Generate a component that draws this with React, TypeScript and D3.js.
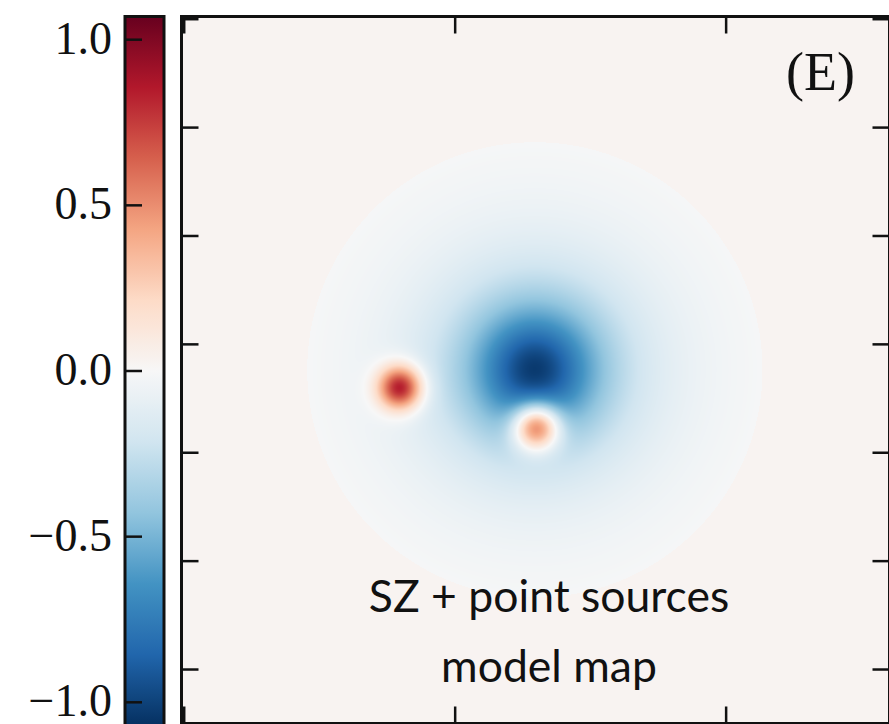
import React, { useEffect, useMemo, useState } from "react";
import * as d3 from "d3";

// ---- data ---------------------------------------------------------------
// Model map grid (pixels on a side) and axis ticks in map-pixel units
const MAP_PIXELS = 130;
const xTicks = [0, 50, 100];
const yTicks = [0, 20, 40, 60, 80, 100, 120];

// Colour bar
const VMAX = 1.07;
const cbarTicks = [1.0, 0.5, 0.0, -0.5, -1.0];
const cbarTickLabels = ["1.0", "0.5", "0.0", "\u22120.5", "\u22121.0"];

// Diverging palette (blue -> white -> red), linearly interpolated
const paletteColors = [
  "#053061", "#2166ac", "#4393c3", "#92c5de", "#d1e5f0", "#f7f7f7",
  "#fddbc7", "#f4a582", "#d6604d", "#b2182b", "#67001f",
];

// SZ cluster (projected beta-like profile, truncated, mean removed)
const clusterCenter = [64.7, 64.7];
const clusterAmplitude = [-1.06];
const clusterCoreRadius = [14.8];
const clusterSlope = [1.5];
const clusterTruncation = [42];
const mapOffset = [0.028];

// Point sources (Gaussian beam)
const sourceX = [39.8, 65.0];
const sourceY = [68.0, 75.2];
const sourceAmp = [0.95, 1.0];
const sourceSigma = [2.8, 3.0];

const panelLabel = "(E)";
const captionLines = ["SZ + point sources", "model map"];

// ---- layout -------------------------------------------------------------
const WIDTH = 889;
const HEIGHT = 724;
const plot = { left: 181.5, top: 16.5, right: 889.5, bottom: 723.5 };
const cbar = { left: 125, right: 164, top: 16.5, bottom: 725.5 };
const TICK = 17;

function modelValue(x: number, y: number): number {
  let v = mapOffset[0];
  const dx = x - clusterCenter[0];
  const dy = y - clusterCenter[1];
  const r = Math.sqrt(dx * dx + dy * dy);
  if (r < clusterTruncation[0]) {
    const q = r / clusterCoreRadius[0];
    v += clusterAmplitude[0] * Math.pow(1 + q * q, -clusterSlope[0]);
  }
  for (let i = 0; i < sourceX.length; i++) {
    const sx = x - sourceX[i];
    const sy = y - sourceY[i];
    v += sourceAmp[i] * Math.exp(-(sx * sx + sy * sy) / (2 * sourceSigma[i] * sourceSigma[i]));
  }
  return v;
}

export default function App() {
  const xScale = useMemo(
    () => d3.scaleLinear().domain([-0.5, MAP_PIXELS - 0.5]).range([181.5, 886]),
    []
  );
  const yScale = useMemo(
    () => d3.scaleLinear().domain([-0.5, MAP_PIXELS - 0.5]).range([16.5, 721]),
    []
  );
  const color = useMemo(
    () =>
      d3
        .scaleLinear<string>()
        .domain(paletteColors.map((_, i) => -VMAX + (2 * VMAX * i) / (paletteColors.length - 1)))
        .range(paletteColors)
        .interpolate(d3.interpolateRgb)
        .clamp(true),
    []
  );
  const cbarY = useMemo(
    () => d3.scaleLinear().domain([VMAX, -VMAX]).range([cbar.top, cbar.bottom]),
    []
  );

  const imgX0 = 181;
  const imgY0 = 16;
  const imgW = 709;
  const imgH = 709;
  const [href, setHref] = useState<string>("");

  useEffect(() => {
    const canvas = document.createElement("canvas");
    canvas.width = imgW;
    canvas.height = imgH;
    const ctx = canvas.getContext("2d");
    if (!ctx) return;
    const img = ctx.createImageData(imgW, imgH);
    const N = 2048;
    const lut: number[][] = [];
    for (let k = 0; k < N; k++) {
      const v = -VMAX + (2 * VMAX * k) / (N - 1);
      const c = d3.rgb(color(v));
      lut.push([c.r, c.g, c.b]);
    }
    for (let j = 0; j < imgH; j++) {
      const dy = yScale.invert(imgY0 + j + 0.5);
      for (let i = 0; i < imgW; i++) {
        const dx = xScale.invert(imgX0 + i + 0.5);
        const v = Math.max(-VMAX, Math.min(VMAX, modelValue(dx, dy)));
        const k = Math.round(((v + VMAX) / (2 * VMAX)) * (N - 1));
        const c = lut[k];
        const o = (j * imgW + i) * 4;
        img.data[o] = c[0];
        img.data[o + 1] = c[1];
        img.data[o + 2] = c[2];
        img.data[o + 3] = 255;
      }
    }
    ctx.putImageData(img, 0, 0);
    setHref(canvas.toDataURL());
  }, [xScale, yScale, color]);

  const gradStops = d3.range(0, 1.0001, 0.02).map((t) => ({
    offset: t,
    c: color(VMAX - t * 2 * VMAX),
  }));

  return (
    <svg width={WIDTH} height={HEIGHT} style={{ display: "block", position: "absolute", left: 0, top: 0 }}>
      <defs>
        <linearGradient id="cbarGrad" x1="0" y1="0" x2="0" y2="1">
          {gradStops.map((s, i) => (
            <stop key={i} offset={s.offset} stopColor={s.c} />
          ))}
        </linearGradient>
        <clipPath id="plotClip">
          <rect x={plot.left} y={plot.top} width={plot.right - plot.left} height={plot.bottom - plot.top} />
        </clipPath>
      </defs>
      <rect width={WIDTH} height={HEIGHT} fill="#ffffff" />

      {/* colour bar */}
      <rect
        x={cbar.left}
        y={cbar.top}
        width={cbar.right - cbar.left}
        height={cbar.bottom - cbar.top}
        fill="url(#cbarGrad)"
        stroke="#111"
        strokeWidth={3}
      />
      {cbarTicks.map((t, i) => (
        <g key={i}>
          <line x1={cbar.left} x2={cbar.left + TICK} y1={cbarY(t)} y2={cbarY(t)} stroke="#111" strokeWidth={2.5} />
          <text
            x={112}
            y={cbarY(t) + 14}
            textAnchor="end"
            fontFamily="'Liberation Serif', 'Times New Roman', serif"
            fontSize={46}
            fill="#111"
          >
            {cbarTickLabels[i]}
          </text>
        </g>
      ))}

      {/* model map */}
      <g clipPath="url(#plotClip)">
        {href && (
          <image href={href} x={imgX0} y={imgY0} width={imgW} height={imgH} preserveAspectRatio="none" />
        )}
      </g>

      {/* ticks on all four sides, pointing inward */}
      {xTicks.map((t) => (
        <g key={"x" + t}>
          <line x1={xScale(t)} x2={xScale(t)} y1={plot.top} y2={plot.top + TICK} stroke="#111" strokeWidth={2.5} />
          <line x1={xScale(t)} x2={xScale(t)} y1={plot.bottom} y2={plot.bottom - TICK} stroke="#111" strokeWidth={2.5} />
        </g>
      ))}
      {yTicks.map((t) => (
        <g key={"y" + t}>
          <line x1={plot.left} x2={plot.left + TICK} y1={yScale(t)} y2={yScale(t)} stroke="#111" strokeWidth={2.5} />
          <line x1={plot.right} x2={plot.right - TICK} y1={yScale(t)} y2={yScale(t)} stroke="#111" strokeWidth={2.5} />
        </g>
      ))}
      <rect
        x={plot.left}
        y={plot.top}
        width={plot.right - plot.left}
        height={plot.bottom - plot.top}
        fill="none"
        stroke="#111"
        strokeWidth={3}
      />

      <text
        x={855}
        y={90}
        textAnchor="end"
        fontFamily="'Liberation Serif', 'Times New Roman', serif"
        fontSize={54}
        fill="#111"
      >
        {panelLabel}
      </text>

      {captionLines.map((line, i) => (
        <text
          key={i}
          x={549}
          y={612 + i * 70}
          textAnchor="middle"
          fontFamily="Lato, 'Noto Sans', sans-serif"
          fontSize={44.5}
          fill="#111"
        >
          {line}
        </text>
      ))}
    </svg>
  );
}
